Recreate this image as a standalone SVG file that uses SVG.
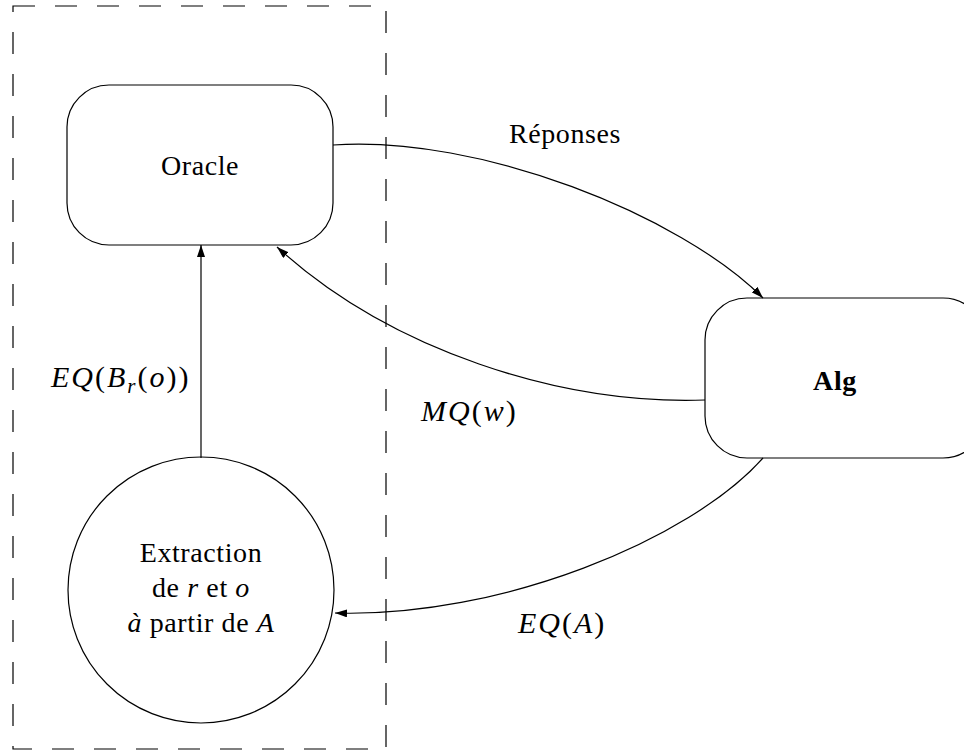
<svg xmlns="http://www.w3.org/2000/svg" width="964" height="751" viewBox="0 0 964 751">
<style>
.n{fill:#fff;stroke:#000;stroke-width:1.2}
.c{fill:none;stroke:#000;stroke-width:1.2}
.t{font-family:"Liberation Serif","DejaVu Serif","Times New Roman",serif;font-size:28px;letter-spacing:0.6px;fill:#000;text-anchor:middle}
.m{font-family:"Liberation Serif","DejaVu Serif","Times New Roman",serif;font-size:30px;letter-spacing:2px;font-style:italic;fill:#000}
.up{font-style:normal}
</style>
<defs>
<marker id="a" viewBox="0 0 12 8" refX="12" refY="4" markerWidth="12" markerHeight="8" markerUnits="userSpaceOnUse" orient="auto">
<path d="M0,0 L12,4 L0,8 Z" fill="#000"/>
</marker>
</defs>
<rect id="frame" x="13" y="6" width="373" height="743" fill="none" stroke="#000" stroke-width="1.2" stroke-dasharray="22 20"/>
<g id="oracle">
<rect class="n" x="67" y="85" width="266" height="160" rx="42" ry="42"/>
<text class="t" x="200" y="175">Oracle</text>
</g>
<g id="alg">
<rect class="n" x="705" y="298" width="280" height="160" rx="42" ry="42"/>
<text class="t" x="835" y="390" font-weight="bold">Alg</text>
</g>
<g id="extraction">
<circle class="n" cx="201" cy="590" r="133"/>
<text class="t" x="201" y="562">Extraction</text>
<text class="t" x="201" y="597">de <tspan font-style="italic">r</tspan> et <tspan font-style="italic">o</tspan></text>
<text class="t" x="201" y="632"><tspan font-style="italic">à</tspan> partir de <tspan font-style="italic">A</tspan></text>
</g>
<g id="connectors">
<path class="c" d="M201,458 L201,245" marker-end="url(#a)"/>
<path class="c" d="M333,145 C480,135 680,215 763,298" marker-end="url(#a)"/>
<path class="c" d="M705,400 C560,405 390,350 277,247" marker-end="url(#a)"/>
<path class="c" d="M763,458 C690,540 500,618 335,613" marker-end="url(#a)"/>
</g>
<g id="labels">
<text class="t" x="565" y="143">Réponses</text>
<text class="m" x="51" y="387">EQ<tspan class="up">(</tspan>B<tspan font-size="21" dy="6">r</tspan><tspan class="up" dy="-6">(</tspan>o<tspan class="up">))</tspan></text>
<text class="m" x="421" y="421">MQ<tspan class="up">(</tspan>w<tspan class="up">)</tspan></text>
<text class="m" x="518" y="633">EQ<tspan class="up">(</tspan>A<tspan class="up">)</tspan></text>
</g>
</svg>
